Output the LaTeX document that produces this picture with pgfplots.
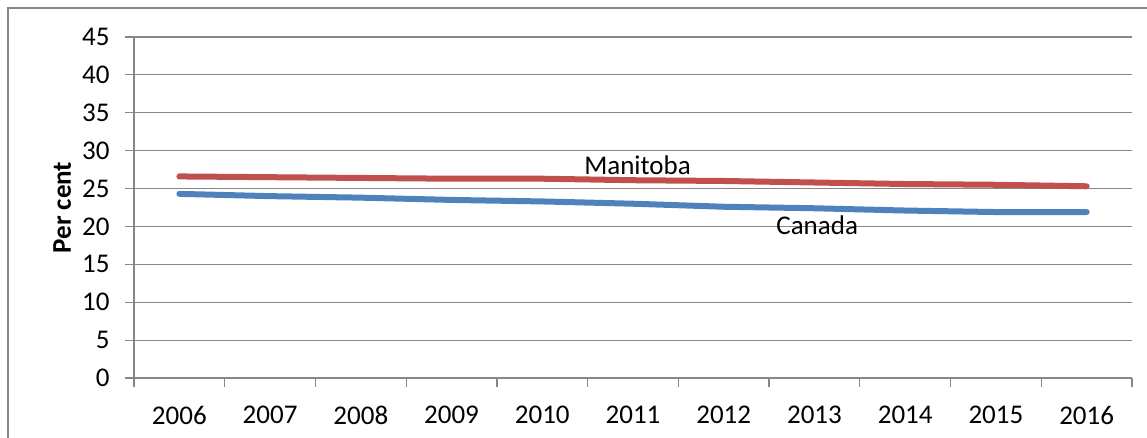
\documentclass[border=0pt]{standalone}
\usepackage{fontspec}
\setmainfont{Carlito}
\usepackage{pgfplots}
\pgfplotsset{compat=1.18}

\definecolor{mbred}{HTML}{C0504D}
\definecolor{cablue}{HTML}{4F81BD}
\definecolor{gridgray}{HTML}{868686}

\begin{document}
\begin{tikzpicture}[font=\fontsize{13.5}{16}\selectfont]
  % frame of the chart area, cut off at right and bottom like the reference
  \path[use as bounding box] (0,0) rectangle (573.5pt,-219pt);
  \draw[gridgray, line width=1pt] (4pt,-219pt) -- (4pt,-4pt) -- (573.5pt,-4pt);

  \begin{axis}[
      at={(67pt,-189pt)}, anchor=south west,
      scale only axis,
      width=499pt, height=170.5pt,
      xmin=-0.5, xmax=10.5,
      ymin=0, ymax=45,
      axis x line*=bottom,
      axis y line*=left,
      axis line style={gridgray, line width=0.6pt, -},
      xtick={0,...,10},
      xticklabels={2006,2007,2008,2009,2010,2011,2012,2013,2014,2015,2016},
      major x tick style={draw=none},
      minor xtick={-0.5,0.5,...,10.5},
      minor x tick style={gridgray, line width=0.6pt},
      minor tick length=4.5pt,
      ytick={0,5,...,45},
      ytick style={gridgray, line width=0.6pt},
      major tick length=4.5pt,
      tick align=outside,
      ymajorgrids=true,
      grid style={gridgray, line width=0.6pt},
      /pgf/number format/assume math mode=true,
      xticklabel style={yshift=-6pt},
      yticklabel style={xshift=-4.2pt},
      ylabel={Per cent},
      ylabel style={at={(axis description cs:-0.072,0.5)}, anchor=center, font=\fontsize{13.5}{16}\selectfont\bfseries},
      clip=false,
    ]

    % Manitoba
    \addplot[mbred, line width=3pt, line cap=round, line join=round] coordinates {
      (0,26.6)(1,26.5)(2,26.4)(3,26.3)(4,26.3)(5,26.1)
      (6,26.0)(7,25.8)(8,25.6)(9,25.5)(10,25.3)
    };
    % Canada
    \addplot[cablue, line width=3pt, line cap=round, line join=round] coordinates {
      (0,24.3)(1,24.0)(2,23.8)(3,23.5)(4,23.3)(5,23.0)
      (6,22.6)(7,22.4)(8,22.1)(9,21.9)(10,21.9)
    };

    \node at (axis cs:5.05,28.1) {Manitoba};
    \node at (axis cs:7.03,20.2) {Canada};
  \end{axis}
\end{tikzpicture}
\end{document}
